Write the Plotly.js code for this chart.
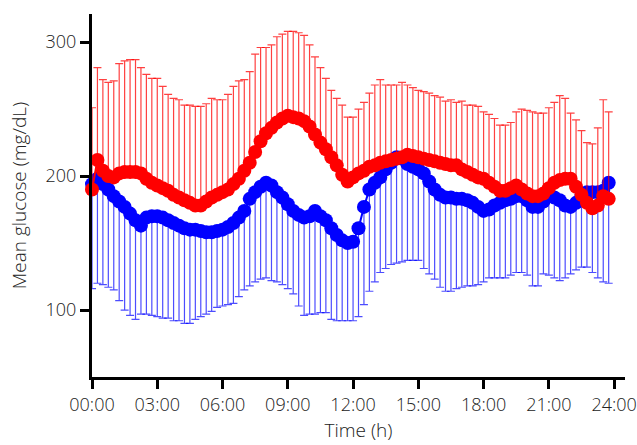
<!DOCTYPE html>
<html>
<head>
<meta charset="utf-8">
<script src="https://cdn.plot.ly/plotly-3.0.1.min.js"></script>
<style>html,body{margin:0;padding:0;background:#fff;}#chart{width:637px;height:445px;}</style>
</head>
<body>
<div id="chart"></div>
<script>
// sampling times (minutes after midnight, every 15 min)
const timeMin = [0,15,30,45,60,75,90,105,120,135,150,165,180,195,210,225,240,255,270,285,300,315,330,345,360,375,390,405,420,435,450,465,480,495,510,525,540,555,570,585,600,615,630,645,660,675,690,705,720,735,750,765,780,795,810,825,840,855,870,885,900,915,930,945,960,975,990,1005,1020,1035,1050,1065,1080,1095,1110,1125,1140,1155,1170,1185,1200,1215,1230,1245,1260,1275,1290,1305,1320,1335,1350,1365,1380,1395,1410,1425];

const tickMinutes = [0,180,360,540,720,900,1080,1260,1440];
const tickLabels = ['00:00','03:00','06:00','09:00','12:00','15:00','18:00','21:00','24:00'];

// red series: mean and upper bound of error bar
const redMean = [190,212,204,200,199,202,203,203,203,202,
198,195,193,191,189,186,184,182,180,178,
178,181,184,186,188,190,194,198,204,210,
218,226,232,236,240,243,245,244,243,241,
237,231,225,220,214,208,201,196,199,202,
204,207,208,210,211,212,213,214,216,215,
214,213,212,211,210,209,208,208,205,203,
201,199,198,195,192,189,189,191,193,190,
187,185,185,187,191,195,197,198,198,192,
186,180,176,178,185,183];
const redUpper = [251,281,272,270,271,284,286,287,287,281,
276,273,273,267,261,258,257,253,253,252,
252,254,258,257,257,261,267,271,272,278,
291,296,296,298,304,306,308,308,307,305,
298,289,281,273,264,258,253,244,244,250,
255,262,268,272,268,268,268,270,268,266,
264,263,262,260,259,256,257,255,256,253,
253,252,248,246,243,238,238,240,248,250,
249,248,247,247,251,255,260,258,247,242,
234,225,224,236,257,248];

// blue series: mean and lower bound of error bar
const blueMean = [194,198,194,190,185,181,177,172,167,163,
169,170,170,169,167,165,163,161,160,160,
159,158,158,159,160,162,165,169,174,183,
188,192,195,193,188,184,179,174,171,169,
170,174,170,167,161,156,152,150,151,161,
177,190,195,199,205,210,214,213,209,207,
205,202,196,190,186,184,184,183,183,182,
180,177,174,175,178,180,182,183,185,185,
182,177,177,181,186,184,182,178,177,180,
185,188,188,188,189,195];
const blueLower = [116,120,119,117,115,107,100,96,93,97,
97,96,95,94,94,92,92,90,90,93,
95,97,99,102,103,104,105,110,115,118,
121,123,124,122,121,119,116,112,103,96,
97,97,98,98,93,92,92,92,92,95,
104,114,121,128,131,134,135,136,137,137,
137,131,127,123,117,114,114,116,117,118,
118,119,121,124,124,124,124,126,128,128,
126,118,118,127,126,124,122,124,127,130,
132,132,128,124,121,120];

const redUp = redUpper.map((u, i) => u - redMean[i]);
const blueDown = blueLower.map((l, i) => blueMean[i] - l);
const zeros = redMean.map(() => 0);

const blue = {
  x: timeMin, y: blueMean, type: 'scatter', mode: 'lines+markers',
  cliponaxis: false,
  line: {color: '#0000ff', width: 2},
  marker: {color: '#0000ff', size: 14},
  error_y: {type: 'data', symmetric: false, array: zeros, arrayminus: blueDown,
            color: 'rgba(0,0,255,0.7)', thickness: 1.2, width: 4},
  showlegend: false, hoverinfo: 'skip'
};
const red = {
  x: timeMin, y: redMean, type: 'scatter', mode: 'lines+markers',
  cliponaxis: false,
  line: {color: '#ff0000', width: 2},
  marker: {color: '#ff0000', size: 14},
  error_y: {type: 'data', symmetric: false, array: redUp, arrayminus: zeros,
            color: 'rgba(255,0,0,0.75)', thickness: 1.2, width: 4},
  showlegend: false, hoverinfo: 'skip'
};

const tickFont = {family: '"Open Sans", "Noto Sans", sans-serif', size: 18, color: '#222222', weight: 300};
const titleFont = {family: '"Open Sans", "Noto Sans", sans-serif', size: 19, color: '#222222', weight: 300};

const layout = {
  width: 637, height: 445,
  margin: {l: 92, r: 12, t: 14, b: 68},
  paper_bgcolor: '#ffffff', plot_bgcolor: '#ffffff',
  font: tickFont,
  showlegend: false,
  xaxis: {
    range: [0, 1470],
    tickmode: 'array', tickvals: tickMinutes, ticktext: tickLabels,
    showgrid: false, zeroline: false,
    showline: true, linecolor: '#000000', linewidth: 3,
    ticks: 'outside', ticklen: 9, tickwidth: 3, tickcolor: '#000000',
    tickfont: tickFont,
    title: {text: 'Time (h)', font: titleFont, standoff: 10}
  },
  yaxis: {
    range: [50, 321],
    tickmode: 'array', tickvals: [100, 200, 300],
    showgrid: false, zeroline: false,
    showline: true, linecolor: '#000000', linewidth: 3,
    ticks: 'outside', ticklen: 9, tickwidth: 3, tickcolor: '#000000',
    tickfont: tickFont,
    title: {text: 'Mean glucose (mg/dL)', font: titleFont, standoff: 14}
  }
};

Plotly.newPlot('chart', [blue, red], layout, {staticPlot: true, displayModeBar: false});
</script>
</body>
</html>
